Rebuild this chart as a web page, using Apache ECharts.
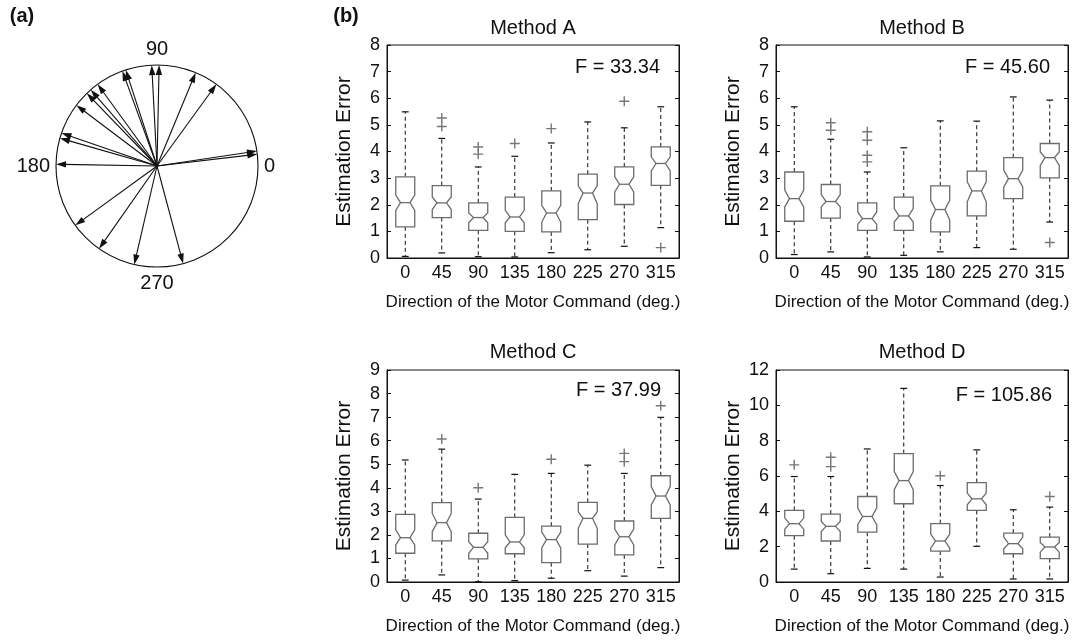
<!DOCTYPE html>
<html>
<head>
<meta charset="utf-8">
<script src="https://cdn.jsdelivr.net/npm/echarts@6/dist/echarts.min.js"></script>
<style>
  html, body { margin: 0; padding: 0; background: #fff; }
  #chart { width: 1083px; height: 644px; }
</style>
</head>
<body>
<div id="chart"></div>
<script>
// directions of the motor commands, panel (a)
const arrowAngles = [6.7, 8.5, 54, 67.5, 88.8, 93, 108, 110, 126, 131, 134, 143, 161, 164, 179, 216, 235, 257, 285]
const polarTicks = [0, 90, 180, 270]

const categories = ['0', '45', '90', '135', '180', '225', '270', '315']

// Method A
const aLow = [0.06, 0.19, 0.05, 0.04, 0.20, 0.31, 0.44, 1.14]
const aQ1 = [1.17, 1.52, 1.04, 1.00, 0.98, 1.44, 2.01, 2.73]
const aMed = [2.08, 2.07, 1.52, 1.54, 1.69, 2.44, 2.77, 3.55]
const aQ3 = [3.05, 2.72, 2.07, 2.29, 2.52, 3.15, 3.42, 4.17]
const aHigh = [5.49, 4.49, 3.42, 3.82, 4.32, 5.11, 4.89, 5.68]
const aNotchLo = [1.79, 1.82, 1.32, 1.32, 1.35, 2.04, 2.48, 3.27]
const aNotchHi = [2.36, 2.29, 1.69, 1.79, 1.98, 2.71, 3.05, 3.80]
const aOut = [[1, 5.26], [1, 4.94], [2, 4.17], [2, 3.90], [3, 4.30], [4, 4.86], [6, 5.89], [7, 0.39]]

// Method B
const bLow = [0.13, 0.23, 0.04, 0.10, 0.23, 0.39, 0.33, 1.35]
const bQ1 = [1.38, 1.50, 1.04, 1.04, 0.98, 1.58, 2.23, 3.01]
const bMed = [2.23, 2.12, 1.48, 1.58, 1.82, 2.52, 2.98, 3.77]
const bQ3 = [3.23, 2.76, 2.07, 2.29, 2.71, 3.26, 3.77, 4.30]
const bHigh = [5.68, 4.46, 3.23, 4.14, 5.15, 5.14, 6.05, 5.93]
const bNotchLo = [1.92, 1.92, 1.27, 1.35, 1.42, 2.11, 2.67, 3.48]
const bNotchHi = [2.55, 2.38, 1.73, 1.86, 2.17, 2.86, 3.30, 3.98]
const bOut = [[1, 5.08], [1, 4.80], [2, 4.74], [2, 4.42], [2, 3.86], [2, 3.61], [7, 0.58]]

// Method C
const cLow = [0.08, 0.30, 0.01, 0.06, 0.16, 0.48, 0.25, 0.61]
const cQ1 = [1.22, 1.75, 0.98, 1.20, 0.82, 1.61, 1.15, 2.70]
const cMed = [1.88, 2.52, 1.47, 1.70, 1.80, 2.70, 1.92, 3.65]
const cQ3 = [2.87, 3.37, 2.07, 2.74, 2.37, 3.38, 2.59, 4.51]
const cHigh = [5.18, 5.64, 3.52, 4.57, 4.61, 4.96, 4.61, 6.99]
const cNotchLo = [1.57, 2.14, 1.22, 1.45, 1.45, 2.28, 1.57, 3.27]
const cNotchHi = [2.21, 2.91, 1.71, 2.00, 2.12, 2.98, 2.25, 4.05]
const cOut = [[1, 6.07], [2, 4.00], [4, 5.21], [6, 5.46], [6, 5.11], [7, 7.48]]

// Method D
const dLow = [0.73, 0.47, 0.77, 0.73, 0.28, 2.02, 0.17, 0.17]
const dQ1 = [2.62, 2.32, 2.82, 4.43, 1.75, 4.05, 1.60, 1.32]
const dMed = [3.30, 3.15, 3.71, 5.74, 2.32, 4.71, 2.17, 1.98]
const dQ3 = [4.05, 3.84, 4.84, 7.27, 3.30, 5.63, 2.77, 2.54]
const dHigh = [5.97, 5.97, 7.53, 10.96, 5.46, 7.48, 4.09, 4.24]
const dNotchLo = [2.99, 2.86, 3.24, 5.22, 1.92, 4.37, 1.88, 1.69]
const dNotchHi = [3.62, 3.43, 4.18, 6.25, 2.71, 5.03, 2.54, 2.24]
const dOut = [[0, 6.63], [1, 7.06], [1, 6.53], [4, 6.01], [7, 4.84]]

const methodNames = ['Method A', 'Method B', 'Method C', 'Method D']
const fLabels = ['F = 33.34', 'F = 45.60', 'F = 37.99', 'F = 105.86']
const yMax = [8, 8, 9, 12]
const yStep = [1, 1, 1, 2]

const FONT = 'Liberation Sans, Arial, Helvetica, sans-serif'
const INK = '#111'
const BOXGRAY = '#6c6c6c'

const methods = [
  [aLow, aQ1, aMed, aQ3, aHigh, aNotchLo, aNotchHi, aOut],
  [bLow, bQ1, bMed, bQ3, bHigh, bNotchLo, bNotchHi, bOut],
  [cLow, cQ1, cMed, cQ3, cHigh, cNotchLo, cNotchHi, cOut],
  [dLow, dQ1, dMed, dQ3, dHigh, dNotchLo, dNotchHi, dOut]
]

// panel placement
const grids = [
  { left: 387, top: 45, width: 292, height: 213 },
  { left: 776, top: 45, width: 292, height: 213 },
  { left: 387, top: 370, width: 292, height: 212 },
  { left: 776, top: 370, width: 292, height: 212 }
]
const fPos = [[660, 67], [1050, 67], [661, 390], [1052, 395]]

// notched box drawn with the axes' own scales
function boxItem (params, api) {
  const i = api.value(0)
  const x = api.coord([i, 0])[0]
  const band = api.size([1, 0])[0]
  const hw = band * 0.26
  const nw = hw * 0.5
  const cw = hw * 0.36
  const y = k => api.coord([i, api.value(k)])[1]
  const lo = y(1), q1 = y(2), md = y(3), q3 = y(4), hi = y(5), nl = y(6), nh = y(7)
  const dash = { stroke: INK, lineWidth: 1, lineDash: [4, 3], fill: null }
  const cap = { stroke: INK, lineWidth: 1.2, fill: null }
  const edge = { stroke: BOXGRAY, lineWidth: 1.3 }
  return {
    type: 'group',
    children: [
      { type: 'line', shape: { x1: x, y1: q3, x2: x, y2: hi }, style: dash },
      { type: 'line', shape: { x1: x, y1: q1, x2: x, y2: lo }, style: dash },
      { type: 'line', shape: { x1: x - cw, y1: hi, x2: x + cw, y2: hi }, style: cap },
      { type: 'line', shape: { x1: x - cw, y1: lo, x2: x + cw, y2: lo }, style: cap },
      {
        type: 'polygon',
        shape: {
          points: [[x - hw, q3], [x + hw, q3], [x + hw, nh], [x + nw, md], [x + hw, nl], [x + hw, q1],
            [x - hw, q1], [x - hw, nl], [x - nw, md], [x - hw, nh]]
        },
        style: Object.assign({ fill: '#fff' }, edge)
      },
      { type: 'line', shape: { x1: x - nw, y1: md, x2: x + nw, y2: md }, style: edge }
    ]
  }
}

function arrowItem (params, api) {
  const ang = api.value(1)
  const c = api.coord([0, ang])
  const t = api.coord([api.value(0), ang])
  const dx = t[0] - c[0], dy = t[1] - c[1]
  const len = Math.sqrt(dx * dx + dy * dy)
  const ux = dx / len, uy = dy / len
  const hl = 10, hh = 3.2
  const bx = t[0] - ux * hl, by = t[1] - uy * hl
  return {
    type: 'group',
    children: [
      { type: 'line', shape: { x1: c[0], y1: c[1], x2: bx + ux * 2, y2: by + uy * 2 }, style: { stroke: INK, lineWidth: 1.1 } },
      { type: 'polygon', shape: { points: [[t[0], t[1]], [bx - uy * hh, by + ux * hh], [bx + uy * hh, by - ux * hh]] }, style: { fill: INK } }
    ]
  }
}

const PLUS = 'path://M4.3,0h1.4v4.3h4.3v1.4h-4.3v4.3h-1.4v-4.3h-4.3v-1.4h4.3z'

const xAxes = []
const yAxes = []
const series = []
const graphics = []

methods.forEach((m, g) => {
  const [lo, q1, md, q3, hi, nl, nh, out] = m
  xAxes.push({
    type: 'category',
    gridIndex: g,
    data: categories,
    boundaryGap: true,
    axisLine: { lineStyle: { color: INK, width: 1 } },
    axisTick: { show: false },
    axisLabel: { color: INK, fontSize: 18, fontFamily: FONT, margin: 6, interval: 0, hideOverlap: false },
    name: 'Direction of the Motor Command (deg.)',
    nameLocation: 'middle',
    nameGap: 36,
    nameTextStyle: { color: INK, fontSize: 17, fontFamily: FONT }
  })
  yAxes.push({
    type: 'value',
    gridIndex: g,
    min: 0,
    max: yMax[g],
    interval: yStep[g],
    axisLine: { show: true, lineStyle: { color: INK, width: 1 } },
    axisTick: { show: true, inside: true, length: 4, lineStyle: { color: INK } },
    axisLabel: { color: INK, fontSize: 18, fontFamily: FONT, margin: 7 },
    splitLine: { show: false },
    name: 'Estimation Error',
    nameLocation: 'middle',
    nameGap: 32,
    nameTextStyle: { color: INK, fontSize: 21, fontFamily: FONT }
  })
  yAxes.push({
    type: 'value',
    gridIndex: g,
    position: 'right',
    min: 0,
    max: yMax[g],
    interval: yStep[g],
    axisLine: { show: true, lineStyle: { color: INK, width: 1 } },
    axisTick: { show: true, inside: true, length: 4, lineStyle: { color: INK } },
    axisLabel: { show: false },
    splitLine: { show: false }
  })
  series.push({
    type: 'custom',
    xAxisIndex: g,
    yAxisIndex: 2 * g,
    renderItem: boxItem,
    encode: { x: 0, y: [1, 2, 3, 4, 5, 6, 7] },
    data: categories.map((c, i) => [i, lo[i], q1[i], md[i], q3[i], hi[i], nl[i], nh[i]]),
    silent: true,
    z: 3
  })
  series.push({
    type: 'scatter',
    xAxisIndex: g,
    yAxisIndex: 2 * g,
    symbol: PLUS,
    symbolSize: 10,
    itemStyle: { color: '#777', opacity: 1 },
    data: out,
    silent: true,
    z: 4
  })
  const gr = grids[g]
  graphics.push({
    type: 'text',
    x: gr.left + gr.width / 2,
    y: g < 2 ? 28 : 352,
    style: { text: methodNames[g], font: '20px ' + FONT, fill: INK, textAlign: 'center', textVerticalAlign: 'middle', verticalAlign: 'middle' }
  })
  graphics.push({
    type: 'text',
    x: fPos[g][0],
    y: fPos[g][1],
    style: { text: fLabels[g], font: '20px ' + FONT, fill: INK, textAlign: 'right', textVerticalAlign: 'middle', verticalAlign: 'middle' },
    z: 10
  })
})

graphics.push({
  type: 'text', x: 22, y: 16,
  style: { text: '(a)', font: 'bold 20px ' + FONT, fill: INK, textAlign: 'center', textVerticalAlign: 'middle', verticalAlign: 'middle' }
})
graphics.push({
  type: 'text', x: 346, y: 16,
  style: { text: '(b)', font: 'bold 20px ' + FONT, fill: INK, textAlign: 'center', textVerticalAlign: 'middle', verticalAlign: 'middle' }
})

series.push({
  type: 'custom',
  coordinateSystem: 'polar',
  renderItem: arrowItem,
  encode: { radius: 0, angle: 1 },
  data: arrowAngles.map(a => [1, a]),
  silent: true
})

const chart = echarts.init(document.getElementById('chart'), null, { renderer: 'canvas' })
chart.setOption({
  animation: false,
  backgroundColor: '#fff',
  textStyle: { fontFamily: FONT },
  grid: grids.map(gr => Object.assign({ show: true, borderColor: INK, borderWidth: 1, backgroundColor: 'transparent' }, gr)),
  xAxis: xAxes,
  yAxis: yAxes,
  polar: { center: [157, 166], radius: 101 },
  angleAxis: {
    type: 'value',
    min: 0,
    max: 360,
    interval: 90,
    startAngle: 0,
    clockwise: false,
    axisLine: { show: true, lineStyle: { color: INK, width: 1.1 } },
    axisTick: { show: false },
    splitLine: { show: false },
    axisLabel: {
      color: INK, fontSize: 20, fontFamily: FONT, margin: 6,
      formatter: v => (polarTicks.indexOf(v) >= 0 ? String(v) : '')
    }
  },
  radiusAxis: {
    type: 'value', min: 0, max: 1,
    axisLine: { show: false }, axisTick: { show: false }, axisLabel: { show: false }, splitLine: { show: false }
  },
  graphic: graphics,
  series: series
})
</script>
</body>
</html>
